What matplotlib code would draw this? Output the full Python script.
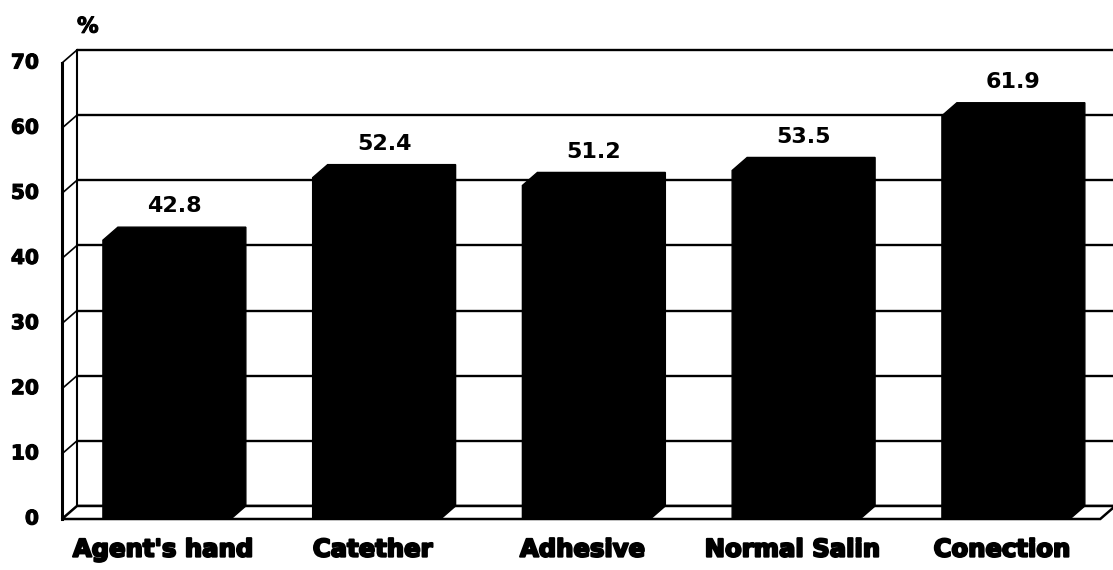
import matplotlib.pyplot as plt
from matplotlib.patches import Polygon
import matplotlib.patheffects as pe

# data
categories = ["Agent's hand", "Catether", "Adhesive", "Normal Salin", "Conection"]
values = [42.8, 52.4, 51.2, 53.5, 61.9]
yticks = [0, 10, 20, 30, 40, 50, 60, 70]

W, H = 1113, 570
fig = plt.figure(figsize=(W / 100, H / 100), dpi=100)
x_left_px, x_right_px = 62, 1113
y0_px, y70_px = 519, 63
ax = fig.add_axes([x_left_px / W, (H - y0_px) / H,
                   (x_right_px - x_left_px) / W, (y0_px - y70_px) / H])
slot = 209.75
ax.set_xlim(-0.5, -0.5 + (x_right_px - x_left_px) / slot)
ax.set_ylim(0, 70)
ax.axis('off')

dx, dy = 0.0715, 2.0      # 3d depth in data units
x0 = -0.5
x_end = 4.45
half = 0.305
lw = 1.8
heavy = [pe.withStroke(linewidth=0.8, foreground='black')]

# back-wall gridlines and left-wall diagonals
for t in yticks:
    ax.plot([x0 + dx, x_end + dx + 0.2], [t + dy, t + dy], color='black', lw=1.7,
            clip_on=False, zorder=1, solid_capstyle='butt')
    ax.plot([x0, x0 + dx], [t, t + dy], color='black', lw=1.2, clip_on=False, zorder=1)
    ax.text(-0.61, t, str(t), ha='right', va='center', fontsize=14.5,
            fontweight='bold', family='DejaVu Sans', path_effects=heavy)

# walls
ax.plot([x0, x0], [0, 70], color='black', lw=2.2, clip_on=False, zorder=1)
ax.plot([x0 + dx, x0 + dx], [dy, 70 + dy], color='black', lw=1.5, clip_on=False, zorder=1)
# floor
floor = Polygon([(x0, 0), (x_end, 0), (x_end + dx, dy), (x0 + dx, dy)], closed=True,
                facecolor='white', edgecolor='black', lw=lw, clip_on=False, zorder=1)
ax.add_patch(floor)

# bars
for i, v in enumerate(values):
    a, b = i - half, i + half
    pts = [(a, 0), (a, v), (a + dx, v + dy), (b + dx, v + dy), (b + dx, dy), (b, 0)]
    ax.add_patch(Polygon(pts, closed=True, facecolor='black', edgecolor='black',
                         lw=1, zorder=3, clip_on=False))
    ax.text(i + dx / 2, v + 5.2, f'{v:.1f}', ha='center', va='center', fontsize=16,
            fontweight='bold', family='DejaVu Sans', clip_on=False)
    ax.text(i - 0.02, -4.7, categories[i], ha='center', va='center', fontsize=17.5,
            fontweight='bold', family='DejaVu Sans', clip_on=False,
            path_effects=[pe.withStroke(linewidth=1.5, foreground='black')])

ax.text(-0.377, 75.6, '%', ha='center', va='center', fontsize=15.5, fontweight='bold',
        family='DejaVu Sans', clip_on=False, path_effects=heavy)

fig.savefig('out.png', dpi=100, facecolor='white')
